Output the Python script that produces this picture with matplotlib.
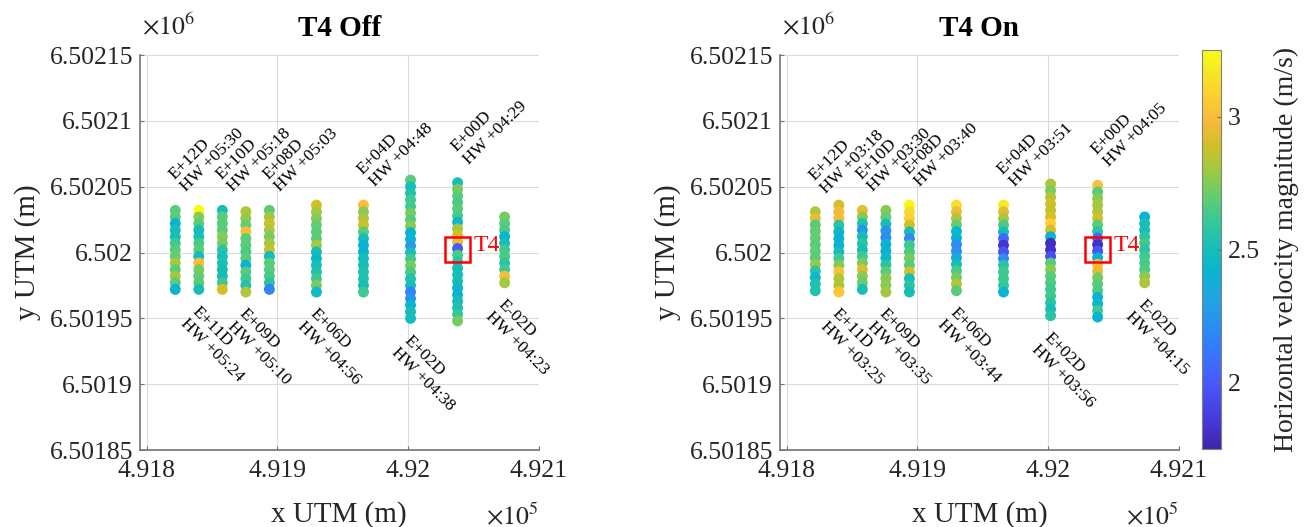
import numpy as np
import matplotlib
matplotlib.use('Agg')
import matplotlib.pyplot as plt
from matplotlib.colors import LinearSegmentedColormap, Normalize
from matplotlib.patches import Rectangle
from matplotlib.cm import ScalarMappable

plt.rcParams['font.family'] = ['Liberation Serif', 'DejaVu Serif']
plt.rcParams['mathtext.fontset'] = 'stix'

# parula (MATLAB R2014b), every 4th entry of the 64-colour table
parula_pts = [
    [0.2422, 0.1504, 0.6603], [0.2706, 0.2147, 0.8364], [0.2813, 0.3006, 0.9414],
    [0.2699, 0.3892, 0.9906], [0.1963, 0.4847, 0.9892], [0.1687, 0.5703, 0.9359],
    [0.1248, 0.6459, 0.8883], [0.0297, 0.7082, 0.8163], [0.0964, 0.7500, 0.7120],
    [0.2161, 0.7843, 0.5923], [0.3909, 0.8029, 0.4354], [0.6174, 0.7876, 0.2612],
    [0.8203, 0.7498, 0.1535], [0.9728, 0.7298, 0.2394], [0.9892, 0.8136, 0.1885],
    [0.9597, 0.9135, 0.1423], [0.9769, 0.9839, 0.0805]]
parula_pos = [0, 4, 8, 12, 16, 20, 24, 28, 32, 36, 40, 44, 48, 52, 56, 60, 63]
parula = LinearSegmentedColormap.from_list(
    'parula', [(p / 63, c) for p, c in zip(parula_pos, parula_pts)])

vmin, vmax = 1.75, 3.25

# transect x positions (UTM easting, m)
col_x = [491822, 491840, 491858, 491876, 491894, 491930, 491966, 492002, 492038, 492074]
col_names = ['E+12D', 'E+11D', 'E+10D', 'E+09D', 'E+08D',
             'E+06D', 'E+04D', 'E+02D', 'E+00D', 'E-02D']

# ---- T4 Off ----
hw_off = ['+05:30', '+05:24', '+05:18', '+05:10', '+05:03',
          '+04:56', '+04:48', '+04:38', '+04:29', '+04:23']
top_off = [6502032, 6502032, 6502032, 6502031, 6502032, 6502036, 6502036, 6502055, 6502053, 6502027]
bot_off = [6501972, 6501972, 6501972, 6501970, 6501972, 6501970, 6501970, 6501950, 6501948, 6501977]
vel_off = [
    [2.68, 2.68, 2.41, 2.50, 2.50, 2.62, 2.68, 2.70, 2.81, 2.68, 2.81, 2.68, 2.41],
    [3.25, 2.76, 2.68, 2.50, 2.50, 2.65, 2.68, 2.48, 3.00, 2.73, 2.70, 2.68, 2.50],
    [2.50, 2.68, 2.68, 2.68, 2.76, 2.73, 2.57, 2.50, 2.54, 2.50, 2.50, 2.62, 2.90],
    [2.83, 2.78, 2.70, 3.00, 2.68, 2.68, 2.65, 2.68, 2.41, 2.68, 2.62, 2.54, 2.83],
    [2.68, 2.81, 2.88, 2.83, 2.73, 2.81, 2.86, 2.48, 2.68, 2.68, 2.65, 2.57, 2.17],
    [2.90, 2.81, 2.76, 2.70, 2.68, 2.68, 2.81, 2.50, 2.44, 2.50, 2.54, 2.62, 2.73, 2.46],
    [3.00, 2.76, 2.83, 2.87, 2.68, 2.50, 2.41, 2.41, 2.50, 2.50, 2.54, 2.54, 2.50, 2.62],
    [2.68, 2.50, 2.54, 2.62, 2.62, 2.73, 2.68, 2.76, 2.41, 2.41, 2.26, 2.50, 2.62, 2.73,
     2.65, 2.54, 2.50, 2.17, 2.24, 2.41, 2.50, 2.48],
    [2.50, 2.74, 2.68, 2.65, 2.68, 2.65, 2.44, 2.81, 2.90, 2.95, 2.00, 2.65, 2.57, 2.50,
     2.50, 2.50, 2.44, 2.41, 2.50, 2.53, 2.59, 2.73],
    [2.73, 2.68, 2.65, 2.41, 2.50, 2.62, 2.65, 2.57, 2.62, 3.00, 2.81]]

# ---- T4 On ----
hw_on = ['+03:18', '+03:25', '+03:30', '+03:35', '+03:40',
         '+03:44', '+03:51', '+03:56', '+04:05', '+04:15']
top_on = [6502031, 6502036, 6502032, 6502032, 6502036, 6502036, 6502036, 6502052, 6502051, 6502027]
bot_on = [6501971, 6501970, 6501972, 6501970, 6501970, 6501971, 6501970, 6501952, 6501951, 6501977]
vel_on = [
    [2.83, 2.95, 2.68, 2.70, 2.70, 2.68, 2.70, 2.68, 2.78, 2.57, 2.44, 2.54, 2.54],
    [2.90, 2.97, 2.97, 2.57, 2.44, 2.41, 2.41, 2.48, 2.62, 2.76, 3.02, 2.83, 2.83, 3.04],
    [2.95, 2.76, 2.54, 2.24, 2.50, 2.57, 2.50, 2.62, 2.73, 2.93, 2.76, 2.70, 2.50],
    [2.76, 2.70, 2.50, 2.24, 2.20, 2.41, 2.38, 2.44, 2.57, 2.68, 2.76, 2.76, 2.81],
    [3.23, 3.11, 3.08, 2.90, 2.50, 2.20, 2.62, 2.65, 2.73, 2.68, 2.90, 2.50, 2.57, 2.50],
    [3.13, 2.97, 2.83, 2.70, 2.44, 2.41, 2.20, 2.22, 2.35, 2.50, 2.65, 2.73, 2.83, 2.68],
    [3.17, 2.93, 2.81, 2.65, 2.50, 2.05, 1.83, 1.97, 2.20, 2.57, 2.62, 2.62, 2.59, 2.41],
    [2.83, 2.74, 2.83, 2.90, 2.86, 2.90, 3.08, 2.90, 2.41, 1.80, 1.82, 1.95, 2.68, 2.76,
     2.68, 2.65, 2.62, 2.62, 2.57, 2.50, 2.57],
    [3.02, 2.68, 2.76, 2.81, 2.83, 2.90, 2.68, 2.57, 2.05, 1.82, 1.97, 2.41, 3.00, 2.95,
     2.73, 2.68, 2.65, 2.41, 2.44, 2.62, 2.41],
    [2.41, 2.50, 2.50, 2.57, 2.62, 2.57, 2.62, 2.65, 2.65, 2.76, 2.83]]

turbine_xy = (492038, 6502002)
turbine_size = 19

xticks = [491800, 491900, 492000, 492100]
xticklabels = ['4.918', '4.919', '4.92', '4.921']
yticks = [6501850, 6501900, 6501950, 6502000, 6502050, 6502100, 6502150]
yticklabels = ['6.50185', '6.5019', '6.50195', '6.502', '6.50205', '6.5021', '6.50215']

txtc = (0.15, 0.15, 0.15)


def draw_panel(ax, title, tops, bots, vels, hws):
    for i in range(len(col_x)):
        v = np.array(vels[i])
        y = np.linspace(tops[i], bots[i], len(v))
        ax.scatter(np.full(len(v), col_x[i]), y, c=v, cmap=parula, vmin=vmin, vmax=vmax,
                   s=62, edgecolors='none', zorder=3)
        lab = col_names[i] + '\nHW ' + hws[i]
        if i % 2 == 0:
            ax.annotate(lab, xy=(col_x[i], tops[i]), xytext=(10, 11),
                        textcoords='offset points', rotation=45, ha='left', va='bottom',
                        rotation_mode='anchor', fontsize=12.5, color='k', zorder=5,
                        linespacing=1.1)
        else:
            ax.annotate(lab, xy=(col_x[i], bots[i]), xytext=(1, -10),
                        textcoords='offset points', rotation=-45, ha='left', va='top',
                        rotation_mode='anchor', fontsize=12.5, color='k', zorder=5,
                        linespacing=1.1)
    h = turbine_size
    ax.add_patch(Rectangle((turbine_xy[0] - h / 2, turbine_xy[1] - h / 2), h, h,
                           fill=False, edgecolor='red', lw=1.8, zorder=4))
    ax.text(turbine_xy[0] + 12, turbine_xy[1] + 3, 'T4', color='red', fontsize=17,
            ha='left', va='center', zorder=5)

    ax.set_xlim(491795, 492100)
    ax.set_ylim(6501850, 6502150)
    ax.set_xticks(xticks)
    ax.set_xticklabels(xticklabels)
    ax.set_yticks(yticks)
    ax.set_yticklabels(yticklabels)
    ax.grid(True, color=(0.86, 0.86, 0.86), lw=0.8, zorder=0)
    ax.set_axisbelow(True)
    for s in ['top', 'right']:
        ax.spines[s].set_visible(False)
    for s in ['left', 'bottom']:
        ax.spines[s].set_color((0.45, 0.45, 0.45))
        ax.spines[s].set_linewidth(1.2)
    ax.tick_params(direction='in', length=3, width=0.8, color=(0.45, 0.45, 0.45),
                   labelsize=18.5, labelcolor=txtc, pad=5)
    ax.tick_params(axis='x', pad=7)
    ax.set_xlabel('x UTM (m)', fontsize=21, color=txtc, labelpad=14)
    ax.set_ylabel('y UTM (m)', fontsize=21, color=txtc, labelpad=6)
    ax.set_title(title, fontsize=21, fontweight='bold', color='k', pad=14)
    ax.text(0.005, 1.053, r'$\times10^{6}$', transform=ax.transAxes, fontsize=18.5,
            color=txtc, ha='left', va='baseline')
    ax.text(1.0, -0.187, r'$\times10^{5}$', transform=ax.transAxes, fontsize=18.5,
            color=txtc, ha='right', va='baseline')


fig = plt.figure(figsize=(13.07, 5.27), dpi=100)
ax1 = fig.add_axes([0.1071, 0.1461, 0.305, 0.7495])
ax2 = fig.add_axes([0.5968, 0.1461, 0.305, 0.7495])
cax = fig.add_axes([0.9197, 0.148, 0.0145, 0.757])

draw_panel(ax1, 'T4 Off', top_off, bot_off, vel_off, hw_off)
draw_panel(ax2, 'T4 On', top_on, bot_on, vel_on, hw_on)

cb = fig.colorbar(ScalarMappable(norm=Normalize(vmin, vmax), cmap=parula), cax=cax)
cb.set_ticks([2, 2.5, 3])
cb.set_ticklabels(['2', '2.5', '3'])
cb.outline.set_edgecolor((0.5, 0.5, 0.5))
cb.outline.set_linewidth(0.8)
cax.tick_params(direction='in', length=3, color=(0.45, 0.45, 0.45), labelsize=18.5,
                labelcolor=txtc, pad=5)
cb.set_label('Horizontal velocity magnitude (m/s)', fontsize=20, color=txtc, labelpad=10)

fig.savefig('out.png', dpi=100)
